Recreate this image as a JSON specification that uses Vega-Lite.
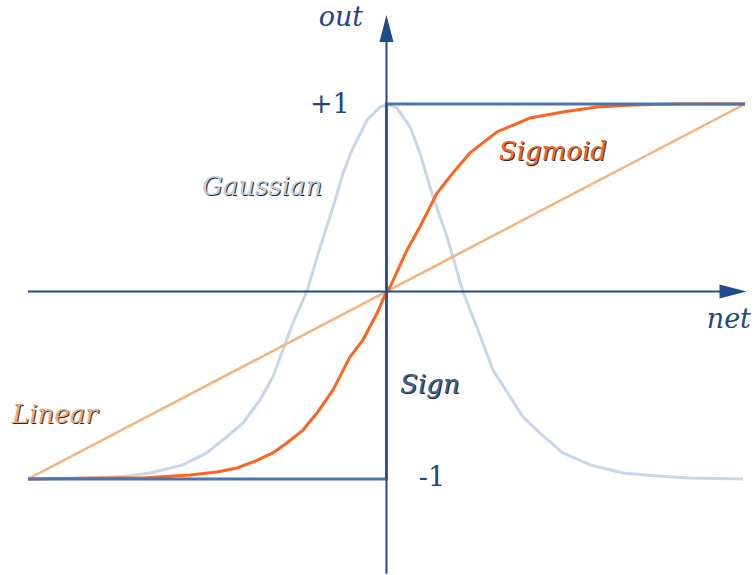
{
  "$schema": "https://vega.github.io/schema/vega-lite/v6.json",
  "width": 756,
  "height": 575,
  "padding": 0,
  "autosize": {"type": "fit", "contains": "padding"},
  "config": {"view": {"stroke": null}},
  "datasets": {
    "sigmoid": [
      {"x": -1, "y": -1}, {"x": -0.799, "y": -0.995}, {"x": -0.679, "y": -0.995}, {"x": -0.548, "y": -0.979},
      {"x": -0.473, "y": -0.963}, {"x": -0.417, "y": -0.941}, {"x": -0.372, "y": -0.909}, {"x": -0.317, "y": -0.861},
      {"x": -0.278, "y": -0.808}, {"x": -0.233, "y": -0.739}, {"x": -0.194, "y": -0.648}, {"x": -0.149, "y": -0.525},
      {"x": -0.102, "y": -0.349}, {"x": -0.066, "y": -0.259}, {"x": -0.026, "y": -0.115}, {"x": 0, "y": 0},
      {"x": 0.01, "y": 0.024}, {"x": 0.057, "y": 0.221}, {"x": 0.093, "y": 0.344}, {"x": 0.141, "y": 0.525},
      {"x": 0.185, "y": 0.632}, {"x": 0.233, "y": 0.739}, {"x": 0.308, "y": 0.851}, {"x": 0.4, "y": 0.925},
      {"x": 0.492, "y": 0.957}, {"x": 0.587, "y": 0.984}, {"x": 0.688, "y": 0.995}, {"x": 0.819, "y": 1}, {"x": 1, "y": 1}
    ],
    "gaussian": [
      {"x": -1, "y": -1}, {"x": -0.799, "y": -0.995}, {"x": -0.724, "y": -0.984}, {"x": -0.66, "y": -0.968},
      {"x": -0.568, "y": -0.925}, {"x": -0.502, "y": -0.861}, {"x": -0.446, "y": -0.776}, {"x": -0.4, "y": -0.701},
      {"x": -0.353, "y": -0.579}, {"x": -0.317, "y": -0.456}, {"x": -0.289, "y": -0.312}, {"x": -0.261, "y": -0.168},
      {"x": -0.222, "y": 0}, {"x": -0.185, "y": 0.237}, {"x": -0.149, "y": 0.451}, {"x": -0.121, "y": 0.632},
      {"x": -0.096, "y": 0.755}, {"x": -0.054, "y": 0.915}, {"x": -0.018, "y": 0.984}, {"x": 0.001, "y": 1},
      {"x": 0.029, "y": 0.979}, {"x": 0.066, "y": 0.877}, {"x": 0.093, "y": 0.739}, {"x": 0.13, "y": 0.504},
      {"x": 0.169, "y": 0.291}, {"x": 0.213, "y": 0}, {"x": 0.252, "y": -0.189}, {"x": 0.297, "y": -0.419},
      {"x": 0.381, "y": -0.669}, {"x": 0.428, "y": -0.755}, {"x": 0.492, "y": -0.861}, {"x": 0.568, "y": -0.925},
      {"x": 0.66, "y": -0.968}, {"x": 0.755, "y": -0.984}, {"x": 0.847, "y": -0.995}, {"x": 0.994, "y": -1}
    ],
    "linear": [{"x": -1, "y": -1}, {"x": 1, "y": 1}],
    "sign": [{"x": -1, "y": -1, "o": 1}, {"x": 0, "y": -1, "o": 2}, {"x": 0, "y": 1, "o": 3}, {"x": 1, "y": 1, "o": 4}],
    "axes": [
      {"axis": "x", "x": -1, "y": 0, "x2": 0.97, "y2": 0},
      {"axis": "y", "x": 0, "y": -1.505, "x2": 0, "y2": 1.395}
    ],
    "arrows": [
      {"axis": "x", "x": 0.9665, "y": 0, "shape": "M1,0L-1,-0.52L-1,0.52Z"},
      {"axis": "y", "x": 0, "y": 1.403, "shape": "M0,-1L0.52,1L-0.52,1Z"}
    ],
    "axisLabels": [
      {"t": "out", "x": -0.127, "y": 1.459},
      {"t": "net", "x": 0.955, "y": -0.152}
    ],
    "ticks": [
      {"t": "+1", "x": -0.158, "y": 0.995},
      {"t": "-1", "x": 0.127, "y": -0.995}
    ],
    "names": [
      {"t": "Sigmoid", "x": 0.464, "y": 0.744, "c": "Sigmoid"},
      {"t": "Gaussian", "x": -0.347, "y": 0.557, "c": "Gaussian"},
      {"t": "Sign", "x": 0.121, "y": -0.499, "c": "Sign"},
      {"t": "Linear", "x": -0.925, "y": -0.659, "c": "Linear"}
    ]
  },
  "encoding": {
    "x": {"field": "x", "type": "quantitative", "scale": {"domain": [-1.078, 1.0307], "nice": false, "zero": false}, "axis": null},
    "y": {"field": "y", "type": "quantitative", "scale": {"domain": [-1.512, 1.5547], "nice": false, "zero": false}, "axis": null}
  },
  "layer": [
    {"data": {"name": "gaussian"}, "mark": {"type": "line", "color": "#c8d6e7", "strokeWidth": 3}, "encoding": {}},
    {"data": {"name": "linear"}, "mark": {"type": "line", "color": "#f9b07a", "strokeWidth": 2.5}, "encoding": {}},
    {"data": {"name": "sigmoid"}, "mark": {"type": "line", "color": "#fc6520", "strokeWidth": 3}, "encoding": {}},
    {"data": {"name": "sign"}, "mark": {"type": "line", "color": "#4b75ab", "strokeWidth": 3}, "encoding": {"order": {"field": "o"}}},
    {"data": {"name": "axes"}, "mark": {"type": "rule", "color": "#1f4c88", "strokeWidth": 2}, "encoding": {"x2": {"field": "x2"}, "y2": {"field": "y2"}}},
    {"data": {"name": "arrows"}, "mark": {"type": "point", "filled": true, "color": "#1f4c88", "opacity": 1, "size": 729, "strokeWidth": 0}, "encoding": {"shape": {"field": "shape", "type": "nominal", "scale": null}}},
    {"data": {"name": "axisLabels"}, "mark": {"type": "text", "font": "DejaVu Serif", "fontStyle": "italic", "fontSize": 27, "color": "#1f4785", "align": "center", "baseline": "middle"}, "encoding": {"text": {"field": "t"}}},
    {"data": {"name": "ticks"}, "mark": {"type": "text", "font": "DejaVu Serif", "fontSize": 27, "color": "#1f4785", "align": "center", "baseline": "middle"}, "encoding": {"text": {"field": "t"}}},
    {"data": {"name": "names"}, "mark": {"type": "text", "font": "DejaVu Serif", "fontStyle": "italic", "fontSize": 26, "color": "#2a2a2a", "align": "center", "baseline": "middle", "dx": 1, "dy": 1}, "encoding": {"text": {"field": "t"}}},
    {"data": {"name": "names"}, "mark": {"type": "text", "font": "DejaVu Serif", "fontStyle": "italic", "fontSize": 26, "align": "center", "baseline": "middle"}, "encoding": {"text": {"field": "t"}, "color": {"field": "c", "type": "nominal", "legend": null, "scale": {"domain": ["Sigmoid", "Gaussian", "Sign", "Linear"], "range": ["#f26522", "#c3cfdf", "#3d6399", "#f5a977"]}}}}
  ]
}
